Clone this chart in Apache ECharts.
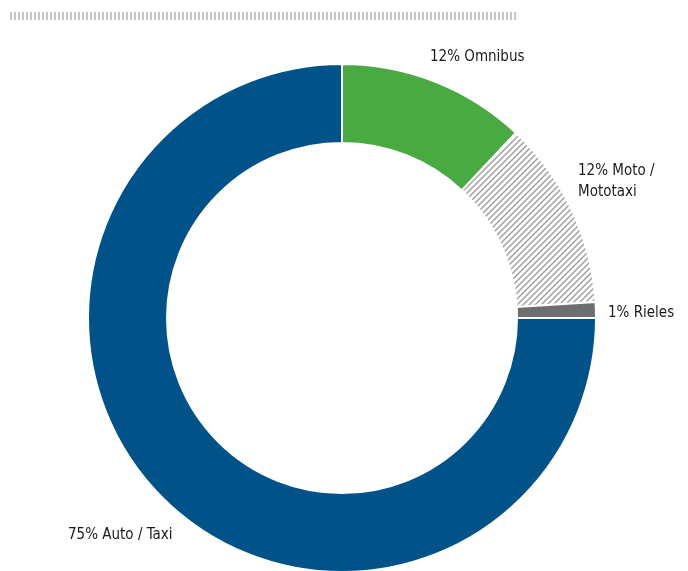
<!DOCTYPE html>
<html><head><meta charset="utf-8">
<script src="https://cdn.jsdelivr.net/npm/echarts@6/dist/echarts.min.js"></script>
<style>html,body{margin:0;padding:0;background:#fff}#c{width:688px;height:571px}</style>
</head><body><div id="c"></div>
<script>
const categories = ['Omnibus', 'Moto /\nMototaxi', 'Rieles', 'Auto / Taxi'];
const values = [12, 12, 1, 75];
const labelsText = ['12%', '12%', '1%', '75%'];

// hatch pattern ("/" diagonal stripes)
const P = 6;
const pc = document.createElement('canvas');
pc.width = P; pc.height = P;
const g = pc.getContext('2d');
g.fillStyle = '#fff'; g.fillRect(0, 0, P, P);
g.strokeStyle = '#a0a0a0'; g.lineWidth = 1.5;
g.beginPath();
g.moveTo(-1, P + 1); g.lineTo(P + 1, -1);
g.moveTo(-1, 1); g.lineTo(1, -1);
g.moveTo(P - 1, P + 1); g.lineTo(P + 1, P - 1);
g.stroke();

const colors = ['#4aaa42', {image: pc, repeat: 'repeat'}, '#6d6e71', '#005288'];
const labelPos = [
  {x: 430, y: 57},
  {x: 578, y: 182},
  {x: 608, y: 313},
  {x: 68, y: 535}
];

const chart = echarts.init(document.getElementById('c'));
chart.setOption({
  animation: false,
  graphic: [{
    type: 'line', silent: true,
    shape: {x1: 10, y1: 16, x2: 518, y2: 16},
    style: {stroke: '#c6c6c6', lineWidth: 8, lineDash: [2, 2]}
  }],
  series: [{
    type: 'pie',
    center: [342, 318],
    radius: [175, 254],
    startAngle: 90,
    clockwise: true,
    itemStyle: {borderColor: '#fff', borderWidth: 2},
    label: {
      show: true,
      position: 'outside',
      overflow: 'none',
      width: 200,
      fontFamily: '"Liberation Sans Narrow", "DejaVu Sans Condensed", sans-serif',
      fontSize: 15,
      lineHeight: 21,
      color: '#1a1a1a',
      formatter: p => labelsText[p.dataIndex] + ' ' + p.name
    },
    labelLine: {show: false},
    labelLayout: p => ({x: labelPos[p.dataIndex].x, y: labelPos[p.dataIndex].y, align: 'left', verticalAlign: 'middle'}),
    emphasis: {disabled: true},
    data: categories.map((c, i) => ({name: c, value: values[i], itemStyle: {color: colors[i]}}))
  }]
});
</script></body></html>
